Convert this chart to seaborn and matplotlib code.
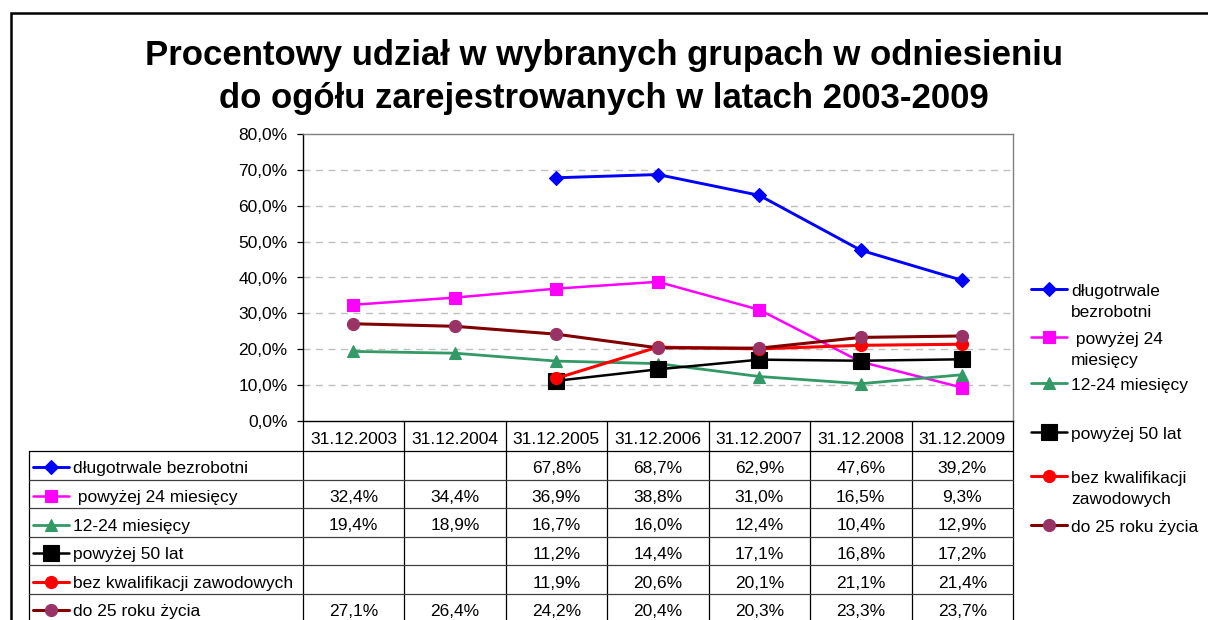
import numpy as np
import pandas as pd
import matplotlib
matplotlib.use("Agg")
import matplotlib.pyplot as plt
import seaborn as sns
from matplotlib.lines import Line2D
from matplotlib.patches import Rectangle
from matplotlib.ticker import FuncFormatter, MultipleLocator
from matplotlib import transforms

# dane z wykresu (w procentach)
daty = ['31.12.2003', '31.12.2004', '31.12.2005', '31.12.2006',
        '31.12.2007', '31.12.2008', '31.12.2009']
dlugotrwale = [np.nan, np.nan, 67.8, 68.7, 62.9, 47.6, 39.2]
powyzej_24 = [32.4, 34.4, 36.9, 38.8, 31.0, 16.5, 9.3]
od_12_do_24 = [19.4, 18.9, 16.7, 16.0, 12.4, 10.4, 12.9]
powyzej_50 = [np.nan, np.nan, 11.2, 14.4, 17.1, 16.8, 17.2]
bez_kwalifikacji = [np.nan, np.nan, 11.9, 20.6, 20.1, 21.1, 21.4]
do_25 = [27.1, 26.4, 24.2, 20.4, 20.3, 23.3, 23.7]

nazwy = ['długotrwale bezrobotni', ' powyżej 24 miesięcy', '12-24 miesięcy',
         'powyżej 50 lat', 'bez kwalifikacji zawodowych', 'do 25 roku życia']
wartosci = [dlugotrwale, powyzej_24, od_12_do_24, powyzej_50, bez_kwalifikacji, do_25]

# styl serii: kolor linii, marker, kolor markera, rozmiar markera, grubość linii
style = [
    dict(color='#0000FF', marker='D', mfc='#0000FF', ms=6.8, lw=2.1),
    dict(color='#FF00FF', marker='s', mfc='#FF00FF', ms=8.3, lw=1.8),
    dict(color='#339966', marker='^', mfc='#339966', ms=9.0, lw=2.0),
    dict(color='#000000', marker='s', mfc='#000000', ms=11.8, lw=1.8),
    dict(color='#FF0000', marker='o', mfc='#FF0000', ms=8.7, lw=2.2),
    dict(color='#800000', marker='o', mfc='#993366', ms=8.7, lw=2.2),
]

df = pd.DataFrame({
    'x': np.tile(np.arange(len(daty)), len(nazwy)),
    'seria': np.repeat(nazwy, len(daty)),
    'wartosc': np.concatenate(wartosci),
})

sns.set_style('white')
plt.rcParams['font.family'] = ['Liberation Sans', 'DejaVu Sans']
plt.rcParams['text.color'] = 'black'
plt.rcParams['ytick.color'] = 'black'
plt.rcParams['xtick.color'] = 'black'

W, H = 1208, 620
fig = plt.figure(figsize=(W / 100, H / 100), dpi=100)


def fx(px):
    return px / W


def fy(py):
    return 1 - py / H


# ramka całego wykresu
fig.add_artist(Rectangle((fx(11), fy(700)), fx(1300), fy(13) - fy(700),
                         fill=False, edgecolor='black', lw=1.8,
                         transform=fig.transFigure))

# tytuł
fig.text(0.5, fy(65), 'Procentowy udział w wybranych grupach w odniesieniu',
         ha='center', va='baseline', fontsize=25, fontweight='bold')
fig.text(0.5, fy(108), 'do ogółu zarejestrowanych w latach 2003-2009',
         ha='center', va='baseline', fontsize=25, fontweight='bold')

ax_l, ax_r, ax_t, ax_b = 302.7, 1013, 134, 421
ax = fig.add_axes([fx(ax_l), fy(ax_b), fx(ax_r - ax_l), fy(ax_t) - fy(ax_b)])

for i, nazwa in enumerate(nazwy):
    st = style[i]
    sns.lineplot(data=df[df['seria'] == nazwa], x='x', y='wartosc', ax=ax,
                 color=st['color'], marker=st['marker'], markersize=st['ms'],
                 markerfacecolor=st['mfc'], markeredgecolor=st['mfc'],
                 markeredgewidth=0.8, linewidth=st['lw'], legend=False,
                 zorder=3 + i)

ax.set_xlim(-0.5, len(daty) - 0.5)
ax.set_ylim(0, 80)
ax.yaxis.set_major_locator(MultipleLocator(10))
ax.yaxis.set_major_formatter(FuncFormatter(lambda v, p: f'{v:.1f}%'.replace('.', ',')))
ax.set_xticks([])
ax.set_xlabel('')
ax.set_ylabel('')
ax.tick_params(axis='y', left=True, length=4, width=0.9, color='black',
               labelcolor='black', labelsize=12.5, pad=7)
for y in range(10, 80, 10):
    ax.axhline(y, color='#BFBFBF', lw=1.0, ls=(0, (5, 4)), zorder=1)
ax.spines['top'].set_color('#808080')
ax.spines['right'].set_color('#808080')
ax.spines['left'].set_color('#000000')
ax.spines['bottom'].set_color('#000000')
for s in ax.spines.values():
    s.set_linewidth(1.0)

# tabela danych pod wykresem
tr = transforms.blended_transform_factory(ax.transData, fig.transFigure)
tab_left = 29
wiersz_h = 28.6
top_tab = 451
n = len(daty)

# linie pionowe
for k in range(n + 1):
    xk = k - 0.5
    fig.add_artist(Line2D([xk, xk], [fy(ax_b), fy(H + 5)], transform=tr,
                          color='black', lw=0.9))
fig.add_artist(Line2D([fx(tab_left), fx(tab_left)], [fy(top_tab), fy(H + 5)],
                      transform=fig.transFigure, color='black', lw=0.9))
# linie poziome
fig.add_artist(Line2D([fx(tab_left), fx(ax_r)], [fy(top_tab), fy(top_tab)],
                      transform=fig.transFigure, color='black', lw=0.9))
for r in range(1, len(nazwy)):
    yy = top_tab + r * wiersz_h
    fig.add_artist(Line2D([fx(tab_left), fx(ax_r)], [fy(yy), fy(yy)],
                          transform=fig.transFigure, color='#404040', lw=0.9))

# nagłówki
for k, d in enumerate(daty):
    fig.text(k, fy((ax_b + top_tab) / 2 + 7.5), d, transform=tr,
             ha='center', va='baseline', fontsize=12.5)


def klucz(xc, yc, st):
    fig.add_artist(Line2D([fx(xc - 18), fx(xc), fx(xc + 18)], [fy(yc)] * 3,
                          transform=fig.transFigure, color=st['color'],
                          lw=st['lw'], marker=st['marker'], markevery=[1],
                          markersize=st['ms'], markerfacecolor=st['mfc'],
                          markeredgecolor=st['mfc'], markeredgewidth=0.8))


for r, nazwa in enumerate(nazwy):
    yc = top_tab + (r + 0.5) * wiersz_h
    klucz(51, yc + 2, style[r])
    fig.text(fx(73), fy(yc + 8), nazwa, ha='left', va='baseline', fontsize=12.5)
    for k, v in enumerate(wartosci[r]):
        if not np.isnan(v):
            fig.text(k, fy(yc + 8), f'{v:.1f}%'.replace('.', ','), transform=tr,
                     ha='center', va='baseline', fontsize=12.5)

# legenda po prawej
legenda = [['długotrwale', 'bezrobotni'], [' powyżej 24', 'miesięcy'],
           ['12-24 miesięcy'], ['powyżej 50 lat'],
           ['bez kwalifikacji', 'zawodowych'], ['do 25 roku życia']]
leg_y = [289, 337, 383, 432, 476, 525]
for r, linie in enumerate(legenda):
    klucz(1049, leg_y[r], style[r])
    for j, t in enumerate(linie):
        fig.text(fx(1071), fy(leg_y[r] + 7 + j * 21), t, ha='left',
                 va='baseline', fontsize=12.5)

fig.savefig('out.png', dpi=100)
